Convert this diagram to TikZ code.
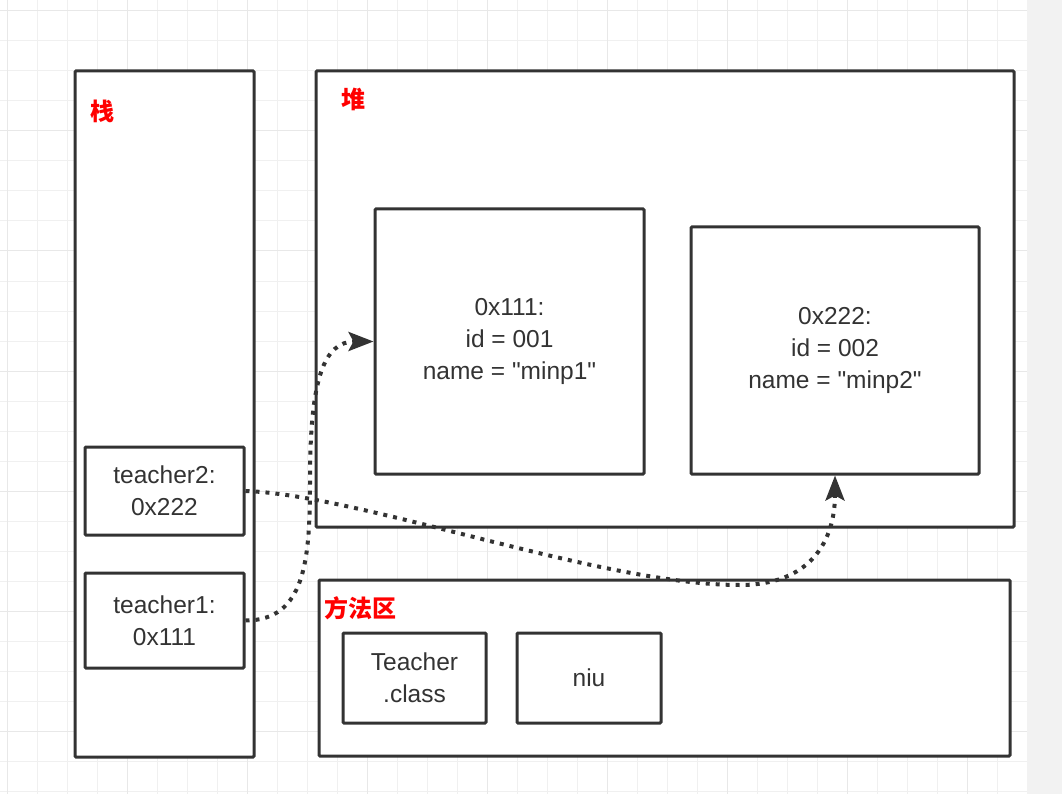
\documentclass[tikz,border=0pt]{standalone}
\usepackage{fontspec}
\setmainfont{Liberation Sans}[Ligatures=TeXOff]
\newfontfamily\cjk{Noto Sans CJK SC}
\usetikzlibrary{arrows.meta}
\definecolor{ink}{HTML}{333333}
\definecolor{gridminor}{HTML}{F0F0F0}
\definecolor{gridmajor}{HTML}{E8E8E8}
\definecolor{side}{HTML}{F2F2F2}
\tikzset{
  box/.style={draw=ink, fill=white, line width=3pt, rounded corners=1pt,
    text=ink, align=center, font=\fontsize{24.5}{32}\selectfont, inner sep=0pt},
  area/.style={cjk red, anchor=west},
  cjk red/.style={text=red, font=\cjk\bfseries\fontsize{24}{28}\selectfont},
  ref/.style={draw=ink, line width=4pt, dash pattern=on 4pt off 6pt,
    -{Stealth[length=25pt, width=19pt, inset=5pt]}}
}
\begin{document}
\begin{tikzpicture}[x=1pt,y=-1pt]
\useasboundingbox (0,0) rectangle (1062,794);
%background grid
\fill[white] (0,0) rectangle (1062,794);
\foreach \x in {7,37,...,1027} \draw[gridminor, line width=1pt] (\x,0) -- (\x,794);
\foreach \y in {11,41,...,794} \draw[gridminor, line width=1pt] (0,\y) -- (1027,\y);
\foreach \x in {7,127,...,1027} \draw[gridmajor, line width=1pt] (\x,0) -- (\x,794);
\foreach \y in {11,131,...,794} \draw[gridmajor, line width=1pt] (0,\y) -- (1027,\y);
\fill[side] (1027,0) rectangle (1062,794);
% stack
\node[box, minimum width=179pt, minimum height=686pt] (stack) at (164.5,414) {};
\node[area] (stacklbl) at (87,111) {栈};
\node[box, minimum width=159pt, minimum height=88pt] (t2) at (164.5,491) {teacher2:\\0x222};
\node[box, minimum width=159pt, minimum height=95pt] (t1) at (164.5,620.5) {teacher1:\\0x111};
% heap
\node[box, minimum width=698pt, minimum height=456pt] (heap) at (665,299) {};
\node[area] (heaplbl) at (338,99) {堆};
\node[box, minimum width=269pt, minimum height=265pt] (obj1) at (509.5,341.5) {0x111:\\id = 001\\name = "minp1"};
\node[box, minimum width=288pt, minimum height=247pt] (obj2) at (835,350.5) {0x222:\\id = 002\\name = "minp2"};
% method area
\node[box, minimum width=691pt, minimum height=176pt] (method) at (664.5,668) {};
\node[area] (methodlbl) at (321,608) {方法区};
\node[box, minimum width=143pt, minimum height=90pt] (cls) at (414.5,678) {Teacher\\.class};
\node[box, minimum width=144pt, minimum height=90pt] (niu) at (589,678) {niu};
% references
\coordinate (bend1) at (310,480);
\coordinate (bend2) at (740,585);
\draw[ref] (t1.east) .. controls +(60,0) and +(0,80) .. (bend1)
  .. controls +(0,-100) and +(-50,0) .. (obj1.west);
\draw[ref] (t2.east) .. controls +(116,4) and +(-140,0) .. (bend2)
  .. controls +(70,0) and +(0,66) .. (obj2.south);
\end{tikzpicture}
\end{document}
